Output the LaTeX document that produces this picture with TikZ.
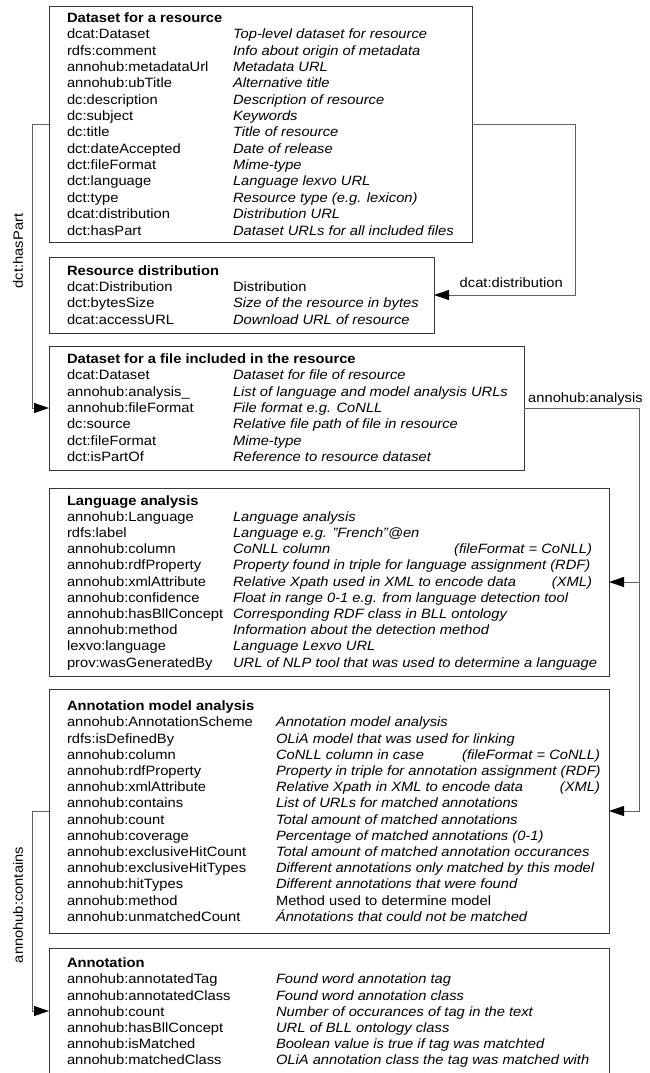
\documentclass[tikz,border=0pt]{standalone}
\usepackage{fontspec}
\setmainfont{Liberation Sans}[FakeStretch=1.09]
\usepackage{array}
\usetikzlibrary{arrows.meta,calc}
\begin{document}
\begin{tikzpicture}[x=1pt,y=-1pt,
  box/.style={draw=black!78, line width=0.9pt, inner sep=0pt, outer sep=0pt, rectangle},
  content/.style={anchor=base west, inner sep=0pt, outer sep=0pt, text=black},
  conn/.style={draw=black!62, line width=0.9pt, -{Triangle[length=15pt,width=10pt,color=black]}},
  lbl/.style={inner sep=0pt, text=black, font=\fontsize{13.5}{16}\selectfont}
]
\useasboundingbox (0,0) rectangle (649,1073);

% boxes
\node[box, minimum width=423pt, minimum height=236pt] (b1) at (260.5,124) {};
\node[box, minimum width=385pt, minimum height=76pt] (b2) at (241.5,295) {};
\node[box, minimum width=475pt, minimum height=124pt] (b3) at (286.5,408) {};
\node[box, minimum width=560pt, minimum height=188pt] (b4) at (329,582) {};
\node[box, minimum width=560pt, minimum height=244pt] (b5) at (329,811) {};
\node[box, minimum width=560pt, minimum height=126pt] (b6) at (329,1011) {};

% contents
\node[content, font=\fontsize{13.5}{16.35}\selectfont] (t1) at (67,22.5) {%
\begin{tabular}[t]{@{}p{166pt}@{}>{\itshape}l@{}}
\multicolumn{2}{@{}l@{}}{\textbf{Dataset for a resource}}\\
dcat:Dataset & Top-level dataset for resource\\
rdfs:comment & Info about origin of metadata\\
annohub:metadataUrl & Metadata URL\\
annohub:ubTitle & Alternative title\\
dc:description & Description of resource\\
dc:subject & Keywords\\
dc:title & Title of resource\\
dct:dateAccepted & Date of release\\
dct:fileFormat & Mime-type\\
dct:language & Language lexvo URL\\
dct:type & Resource type (e.g. lexicon)\\
dcat:distribution & Distribution URL\\
dct:hasPart & Dataset URLs for all included files
\end{tabular}};

\node[content, font=\fontsize{13.5}{16.35}\selectfont] (t2) at (67,275) {%
\begin{tabular}[t]{@{}p{166pt}@{}>{\itshape}l@{}}
\multicolumn{2}{@{}l@{}}{\textbf{Resource distribution}}\\
dcat:Distribution & \upshape Distribution\\
dct:bytesSize & Size of the resource in bytes\\
dcat:accessURL & Download URL of resource
\end{tabular}};

\node[content, font=\fontsize{13.5}{16.35}\selectfont] (t3) at (67,363.3) {%
\begin{tabular}[t]{@{}p{166pt}@{}>{\itshape}l@{}}
\multicolumn{2}{@{}l@{}}{\textbf{Dataset for a file included in the resource}}\\
dcat:Dataset & Dataset for file of resource\\
annohub:analysis\_ & List of language and model analysis URLs\\
annohub:fileFormat & File format e.g. CoNLL\\
dc:source & Relative file path of file in resource\\
dct:fileFormat & Mime-type\\
dct:isPartOf & Reference to resource dataset
\end{tabular}};

\node[content, font=\fontsize{13.5}{16.2}\selectfont] (t4) at (67,505) {%
\begin{tabular}[t]{@{}p{166pt}@{}>{\itshape}l@{}}
\multicolumn{2}{@{}l@{}}{\textbf{Language analysis}}\\
annohub:Language & Language analysis\\
rdfs:label & Language e.g. \symbol{34}French\symbol{34}@en\\
annohub:column & \makebox[359pt][l]{CoNLL column\hfill(fileFormat = CoNLL)}\\
annohub:rdfProperty & Property found in triple for language assignment (RDF)\\
annohub:xmlAttribute & \makebox[359pt][l]{Relative Xpath used in XML to encode data\hfill(XML)}\\
annohub:confidence & Float in range 0-1 e.g. from language detection tool\\
annohub:hasBllConcept & Corresponding RDF class in BLL ontology\\
annohub:method & Information about the detection method\\
lexvo:language & Language Lexvo URL\\
prov:wasGeneratedBy & URL of NLP tool that was used to determine a language
\end{tabular}};

\node[content, font=\fontsize{13.5}{16.2}\selectfont] (t5) at (67,710.7) {%
\begin{tabular}[t]{@{}p{209pt}@{}>{\itshape}l@{}}
\multicolumn{2}{@{}l@{}}{\textbf{Annotation model analysis}}\\
annohub:AnnotationScheme & Annotation model analysis\\
rdfs:isDefinedBy & OLiA model that was used for linking\\
annohub:column & \makebox[324pt][l]{CoNLL column in case\hfill(fileFormat = CoNLL)}\\
annohub:rdfProperty & Property in triple for annotation assignment (RDF)\\
annohub:xmlAttribute & \makebox[324pt][l]{Relative Xpath in XML to encode data\hfill(XML)}\\
annohub:contains & List of URLs for matched annotations\\
annohub:count & Total amount of matched annotations\\
annohub:coverage & Percentage of matched annotations (0-1)\\
annohub:exclusiveHitCount & Total amount of matched annotation occurances\\
annohub:exclusiveHitTypes & Different annotations only matched by this model\\
annohub:hitTypes & Different annotations that were found\\
annohub:method & \upshape Method used to determine model\\
annohub:unmatchedCount & Ánnotations that could not be matched
\end{tabular}};

\node[content, font=\fontsize{13.5}{16.2}\selectfont] (t6) at (67,967.7) {%
\begin{tabular}[t]{@{}p{209pt}@{}>{\itshape}l@{}}
\multicolumn{2}{@{}l@{}}{\textbf{Annotation}}\\
annohub:annotatedTag & Found word annotation tag\\
annohub:annotatedClass & Found word annotation class\\
annohub:count & Number of occurances of tag in the text\\
annohub:hasBllConcept & URL of BLL ontology class\\
annohub:isMatched & Boolean value is true if tag was matchted\\
annohub:matchedClass & OLiA annotation class the tag was matched with
\end{tabular}};

% connectors
\coordinate (hp) at ($(b1.west)+(-17,0)$);
\draw[conn] (b1.west) -- (hp) |- (b3.west);
\coordinate (dd) at ($(b1.east)+(103,0)$);
\draw[conn] (b1.east) -- (dd) |- (b2.east);
\coordinate (ra) at ($(b4.east)+(30,0)$);
\coordinate (rb) at ($(b5.east)+(30,0)$);
\draw[conn] (b3.east) -| (rb) -- (b5.east);
\draw[conn] (ra) -- (b4.east);
\coordinate (ct) at ($(b5.west)+(-17,0)$);
\draw[conn] (b5.west) -- (ct) |- (b6.west);

% connector labels
\node[lbl, rotate=90] (lhp) at (18,251) {dct:hasPart};
\node[lbl, rotate=90] (lct) at (18,905) {annohub:contains};
\node[lbl, anchor=base east] (ldd) at (563,287) {dcat:distribution};
\node[lbl, anchor=base west] (lan) at (528,402.3) {annohub:analysis};
\end{tikzpicture}
\end{document}
